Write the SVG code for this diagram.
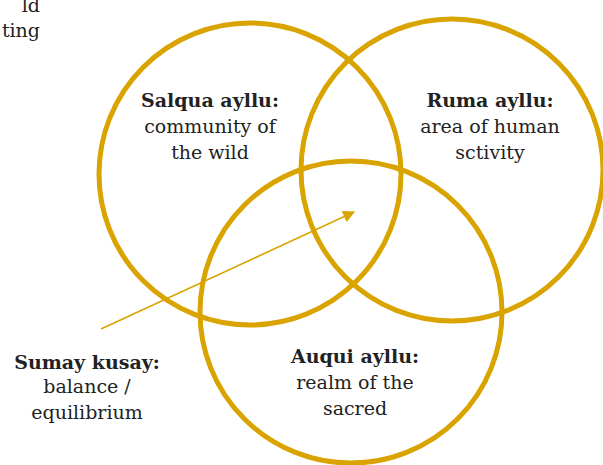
<svg xmlns="http://www.w3.org/2000/svg" width="603" height="465" viewBox="0 0 603 465">
<defs>
<style>
.c{fill:none;stroke:#d9a300;stroke-width:5}
text{font-family:"DejaVu Serif","Liberation Serif",serif;font-size:19px;fill:#222;text-anchor:middle}
.b{font-weight:bold}
.e{stroke:#d9a300;stroke-width:1.6;fill:none}
</style>
<marker id="ah" viewBox="0 0 10 10" refX="9" refY="5" markerWidth="8" markerHeight="8" markerUnits="userSpaceOnUse" orient="auto">
<path d="M0,0 L10,5 L0,10 z" fill="#d9a300"/>
</marker>
<marker id="ah2" viewBox="0 0 10 10" refX="9" refY="5" markerWidth="14" markerHeight="12" markerUnits="userSpaceOnUse" orient="auto">
<path d="M0,0 L10,5 L0,10 z" fill="#d9a300"/>
</marker>
</defs>
<rect width="603" height="465" fill="#fff"/>
<text x="40" y="12" style="text-anchor:end">ld</text>
<text x="40" y="37" style="text-anchor:end">ting</text>
<g id="salqua">
<circle class="c" cx="250" cy="174" r="151"/>
<text class="b" x="210" y="107">Salqua ayllu:</text>
<text x="210" y="133">community of</text>
<text x="210" y="159">the wild</text>
</g>
<g id="ruma">
<circle class="c" cx="452" cy="170" r="151"/>
<text class="b" x="490" y="107">Ruma ayllu:</text>
<text x="490" y="133">area of human</text>
<text x="490" y="159">sctivity</text>
</g>
<g id="auqui">
<circle class="c" cx="351" cy="312" r="151"/>
<text class="b" x="355" y="363">Auqui ayllu:</text>
<text x="355" y="389">realm of the</text>
<text x="355" y="415">sacred</text>
</g>
<g id="sumay">
<text class="b" x="87" y="369">Sumay kusay:</text>
<text x="87" y="393">balance /</text>
<text x="87" y="419">equilibrium</text>
</g>
<g id="connectors">
<line class="e" x1="101" y1="329" x2="354" y2="212" marker-end="url(#ah2)"/>
</g>
</svg>
